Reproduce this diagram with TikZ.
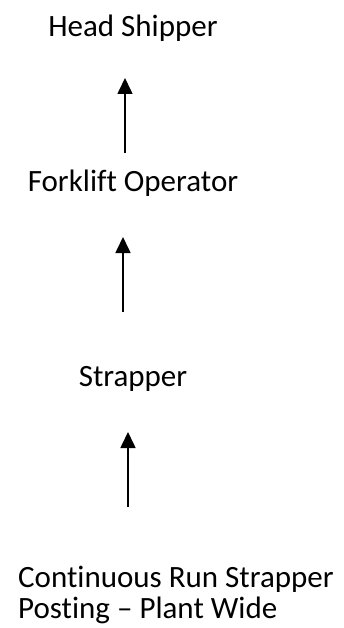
\documentclass[tikz,border=0pt]{standalone}
\usepackage{fontspec}
\setmainfont{Carlito}[Ligatures=NoCommon]
\usetikzlibrary{arrows.meta, positioning}

\begin{document}
\begin{tikzpicture}[x=1pt, y=-1pt, >={Triangle[length=16pt, width=15pt]},
            role/.style={inner sep=0pt, anchor=base, font=\fontsize{31}{31}\selectfont},
            flow/.style={->, line width=1.6pt, black}]
    \useasboundingbox (0,0) rectangle (343,628);

    % Nodes
    \node[role] (head) at (133,37) {Head Shipper};
    \node[role] (fork) at (133,192) {Forklift Operator};
    \node[role] (strap) at (133,386) {Strapper};
    \node[role, anchor=base west, align=left] (post) at (18,618) {Continuous Run Strapper\\Posting -- Plant Wide};

    % Arrow ends
    \coordinate (f1) at (125,153);
    \coordinate (t1) at (125,78);
    \coordinate (f2) at (123,312);
    \coordinate (t2) at (123,237);
    \coordinate (f3) at (128,507);
    \coordinate (t3) at (128,432);

    % Edges
    \draw[flow] (f1) -- (t1);
    \draw[flow] (f2) -- (t2);
    \draw[flow] (f3) -- (t3);
\end{tikzpicture}
\end{document}
